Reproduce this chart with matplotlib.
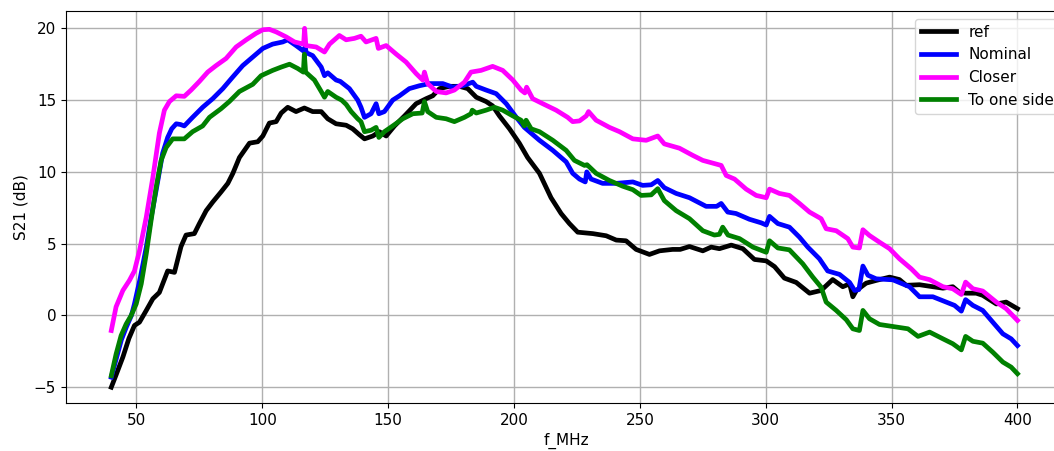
import matplotlib
matplotlib.use("Agg")
import matplotlib.pyplot as plt

# ---- data ----
ref_f = [40, 42, 44.6, 47, 49.2, 51.2, 53.9, 56.5, 59.1, 62.4, 65.1, 67.7, 69.7, 73, 75, 77.7,
         80.3, 83.6, 86.3, 88.3, 90.9, 94.9, 98.2, 100.2, 102.8, 105.5, 107.5, 110.1, 113.4,
         116.7, 120, 123.4, 126, 129.3, 133.3, 135.9, 138.5, 140.6, 143.9, 146.5, 149.2, 152.5,
         156.5, 161.1, 165.1, 167.7, 170.4, 174.3, 178.3, 181.6, 185, 188.9, 191.5, 194.2,
         198.2, 202.1, 205.4, 210.1, 214.7, 218.7, 222, 225.3, 231.3, 236.6, 240.6, 244.5,
         248.5, 253.8, 257.8, 263, 266, 269.7, 275, 278.3, 281.6, 286.3, 290.9, 295.5, 300.2,
         303.5, 307.4, 312.1, 317.4, 322, 326.6, 330.6, 333.3, 334.6, 336, 339.9, 343.9, 349.2,
         353.1, 355.8, 361.1, 366.4, 370.4, 374.3, 377, 379.6, 383.6, 386.2, 391.6, 395.5, 400]
ref_v = [-5.0, -4.1, -2.9, -1.6, -0.7, -0.47, 0.35, 1.16, 1.6, 3.1, 3.0, 4.8, 5.6, 5.7, 6.4, 7.3,
         7.9, 8.6, 9.2, 9.9, 11.0, 12.0, 12.1, 12.5, 13.4, 13.5, 14.1, 14.5, 14.2,
         14.45, 14.2, 14.2, 13.7, 13.35, 13.25, 13.0, 12.6, 12.3, 12.5, 12.8, 12.5, 13.2,
         13.9, 14.75, 15.1, 15.3, 15.8, 15.96, 15.96, 15.8, 15.2, 14.9, 14.6, 13.9,
         13.0, 12.0, 11.0, 9.9, 8.2, 7.1, 6.4, 5.8, 5.7, 5.55, 5.25, 5.2,
         4.6, 4.25, 4.5, 4.6, 4.6, 4.8, 4.5, 4.76, 4.65, 4.9, 4.65, 3.9, 3.8,
         3.4, 2.6, 2.3, 1.55, 1.74, 2.5, 2.0, 2.2, 1.3, 1.74, 2.25, 2.44, 2.67,
         2.5, 2.1, 2.14, 2.0, 1.9, 2.0, 1.6, 1.55, 1.55, 1.4, 0.8, 0.93, 0.47]

nom_f = [40, 42, 44, 46, 48, 49.2, 51.5, 53.9, 55.8, 57.8, 60.4, 62.4, 64, 65.8, 67.5, 69,
         72.3, 76.3, 80.3, 84.3, 88.2, 92.2, 96.2, 100.2, 104.1, 108.1, 110.1, 113.4, 116.5,
         117, 117.5, 120, 123.4, 124.7, 126, 129.3, 131, 134.6, 137.9, 139.2, 140.6, 143.2,
         145.2, 146.3, 148.5, 151.8, 154.5, 158.4, 162.4, 166.4, 171.7, 175.7, 179.6, 183.6,
         185, 188.9, 192.9, 196.9, 200.9, 204.1, 206.1, 210.1, 215.4, 220.7, 223.3, 226,
         228.3, 228.9, 230.6, 235.2, 240.6, 247.2, 251.1, 254.5, 257.1, 259.7, 264.4, 269.7,
         276.3, 280.5, 282.3, 284.9, 288.2, 293.5, 298.2, 300.2, 301.5, 304.8, 309.4, 313.4,
         316.7, 321.3, 324.6, 329.3, 333.3, 335.3, 337, 338.6, 340.6, 343.9, 350.5, 357.1,
         361.1, 366.4, 371.7, 375, 377.7, 379.4, 382.3, 386.2, 390.2, 394.2, 397.5, 400]
nom_v = [-4.3, -3.0, -1.7, -0.8, 0.0, 0.8, 2.6, 4.76, 6.8, 8.7, 11.3, 12.4, 13.0, 13.35, 13.3, 13.2,
         13.8, 14.5, 15.1, 15.8, 16.6, 17.4, 18.0, 18.6, 18.9, 19.05, 19.2, 18.8, 18.4,
         18.7, 18.3, 18.1, 17.3, 16.7, 16.9, 16.4, 16.3, 15.8, 15.0, 14.5, 13.8, 14.05,
         14.75, 14.05, 14.2, 15.0, 15.3, 15.8, 16.0, 16.15, 16.15, 15.9, 16.0, 16.25,
         15.96, 15.7, 15.45, 14.75, 13.8, 13.1, 12.8, 12.2, 11.5, 10.7, 9.9, 9.5,
         9.3, 10.0, 9.5, 9.2, 9.2, 9.3, 9.06, 9.1, 9.4, 8.9, 8.5, 8.2,
         7.6, 7.6, 7.8, 7.2, 7.1, 6.7, 6.45, 6.3, 6.9, 6.4, 6.15, 5.45,
         4.76, 3.95, 3.1, 2.86, 2.3, 1.74, 1.8, 3.44, 2.8, 2.55, 2.48, 2.0,
         1.3, 1.3, 0.93, 0.7, 0.3, 1.1, 0.7, 0.35, -0.47, -1.28, -1.63, -2.1]

clo_f = [40, 41.9, 44.6, 47.2, 49.2, 51.2, 53.9, 56.5, 59.1, 61.1, 63.1, 65.8, 69, 71.7, 75,
         78.3, 81.6, 85.6, 89.6, 93.6, 97.5, 100.2, 102.8, 105.5, 109.5, 112.8, 116.4, 116.8,
         117.3, 121.4, 124.7, 126.7, 130.6, 133.3, 136.6, 139.2, 141.2, 145.2, 146.1, 149.2,
         153.2, 157.1, 161.1, 163.7, 164.4, 165.7, 169.1, 173, 176.3, 180.3, 182.9, 186.9,
         191.5, 195.5, 199.5, 202.8, 204.3, 205, 207.4, 211.4, 216.7, 221.3, 223.3, 226,
         228.7, 229.6, 232.6, 237.9, 241.9, 247.2, 252.5, 257.1, 259.7, 265.7, 271, 275,
         282.3, 284.3, 287.6, 292.2, 296.2, 300.2, 301.5, 305.4, 309.4, 313.4, 317.4, 322,
         324, 328, 332.6, 334.6, 337.2, 338.6, 341.2, 345.2, 349.2, 353.1, 357.8, 361.1,
         365.1, 370.4, 374.3, 377.7, 379.4, 382.3, 386.2, 391.6, 395.5, 400]
clo_v = [-1.05, 0.6, 1.74, 2.44, 3.1, 4.5, 6.85, 9.6, 12.7, 14.3, 14.9, 15.3, 15.26, 15.7, 16.3,
         16.95, 17.4, 17.9, 18.7, 19.2, 19.65, 19.9, 19.93, 19.75, 19.4, 19.05, 18.9, 20.0,
         18.8, 18.7, 18.35, 18.9, 19.5, 19.2, 19.3, 19.45, 19.05, 19.3, 18.6, 18.8,
         18.2, 17.65, 16.85, 16.4, 16.95, 16.15, 15.6, 15.5, 15.7, 16.25, 16.95, 17.07,
         17.35, 17.07, 16.4, 15.7, 15.5, 15.9, 15.1, 14.75, 14.3, 13.8, 13.5, 13.55,
         13.9, 14.2, 13.6, 13.1, 12.8, 12.3, 12.2, 12.5, 11.95, 11.65, 11.15, 10.8,
         10.45, 9.75, 9.5, 8.8, 8.36, 8.2, 8.8, 8.5, 8.36, 7.8, 7.2, 6.74,
         6.04, 5.9, 5.35, 4.76, 4.7, 5.97, 5.57, 5.1, 4.65, 3.95, 3.25, 2.67,
         2.49, 2.0, 1.86, 1.46, 2.32, 1.86, 1.7, 0.93, 0.47, -0.35]

side_f = [40, 41.9, 43.9, 45.9, 47.9, 49.9, 51.9, 53.9, 55.8, 57.8, 59.8, 61.8, 64.4, 69, 72.3,
          76.3, 79, 83.6, 86.9, 90.9, 96.2, 99.5, 104.1, 107.5, 110.8, 114.1, 116.3, 116.7,
          117.2, 120.7, 123.4, 124.7, 126, 129.3, 131.5, 133.3, 135.3, 137.9, 139.2, 140.6,
          143.2, 145.2, 146.3, 148.5, 151.8, 155.8, 159.8, 163.5, 164.4, 165.7, 169.1, 173,
          176.3, 180.3, 182.9, 183.4, 185, 188.9, 192.2, 195.5, 199.5, 202.8, 204.1, 204.8,
          206.8, 210.1, 215.4, 220.7, 224, 228, 229, 232.6, 237.9, 243.2, 247.2, 250.5,
          254.5, 257.1, 259.7, 264.4, 269.7, 275, 279.6, 281.6, 282.9, 285, 289.6, 294.9,
          300.2, 301.5, 304.8, 309.4, 314.7, 318.7, 322, 324, 328, 332, 334.6, 337.2, 338.6,
          341.2, 345.2, 350.5, 356.5, 360.5, 365.1, 370.4, 374.3, 377.7, 379.4, 382.3, 386.2,
          390.2, 394.2, 397.5, 400]
side_v = [-4.2, -2.7, -1.4, -0.6, 0.0, 0.8, 2.2, 4.3, 6.6, 8.9, 10.8, 11.7, 12.3, 12.3, 12.8,
          13.2, 13.8, 14.4, 14.9, 15.6, 16.1, 16.7, 17.07, 17.3, 17.5, 17.2, 16.95, 18.2,
          16.95, 16.4, 15.6, 15.2, 15.6, 15.2, 15.0, 14.7, 14.2, 13.7, 13.5, 12.8,
          12.9, 13.1, 12.4, 12.8, 13.2, 13.7, 14.05, 14.1, 14.9, 14.2, 13.8, 13.7,
          13.5, 13.8, 14.05, 14.3, 14.1, 14.3, 14.5, 14.3, 13.9, 13.6, 13.2, 13.6,
          13.0, 12.8, 12.2, 11.5, 10.8, 10.45, 10.5, 9.9, 9.4, 9.0, 8.76, 8.36,
          8.4, 8.83, 8.0, 7.3, 6.74, 5.9, 5.6, 5.65, 6.15, 5.6, 5.35, 4.76,
          4.4, 5.2, 4.7, 4.57, 3.6, 2.67, 1.97, 0.93, 0.35, -0.3, -0.93, -1.05, 0.35,
          -0.23, -0.63, -0.77, -0.93, -1.46, -1.16, -1.63, -1.97, -2.4, -1.46, -1.8, -1.93,
          -2.56, -3.25, -3.6, -4.06]

labels = ["ref", "Nominal", "Closer", "To one side"]
colors = ["black", "blue", "magenta", "green"]

plt.rcParams["font.family"] = ["DejaVu Sans"]
plt.rcParams["font.size"] = 11

fig = plt.figure(figsize=(10.54, 4.51), dpi=100)
ax = fig.add_axes([0.0626, 0.1064, 0.9505, 0.869])

series = [(ref_f, ref_v), (nom_f, nom_v), (clo_f, clo_v), (side_f, side_v)]
for (f, v), lab, c in zip(series, labels, colors):
    ax.plot(f, v, color=c, lw=3.4, label=lab, solid_joinstyle="round")

ax.set_xlim(22, 420)
ax.set_ylim(-6.1, 21.2)
ax.set_xticks([50, 100, 150, 200, 250, 300, 350, 400])
ax.set_yticks([-5, 0, 5, 10, 15, 20])
ax.grid(True, color="#b0b0b0", lw=1.0)
ax.set_axisbelow(True)
ax.set_xlabel("f_MHz")
ax.set_ylabel("S21 (dB)")
ax.legend(loc="upper right", handlelength=2.3)

fig.savefig("out.png", dpi=100)
